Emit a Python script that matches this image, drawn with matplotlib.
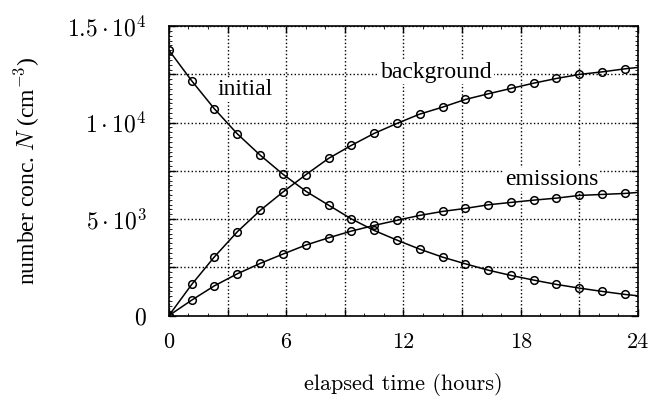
import numpy as np
import matplotlib.pyplot as plt
from matplotlib.ticker import MultipleLocator

plt.rcParams['mathtext.fontset'] = 'cm'
plt.rcParams['font.family'] = ['cmr10', 'DejaVu Serif']
plt.rcParams['axes.formatter.use_mathtext'] = True

# Data, samples every 70 minutes
hours = [0, 1.17, 2.33, 3.5, 4.67, 5.83, 7, 8.17, 9.33, 10.5, 11.67, 12.83,
         14, 15.17, 16.33, 17.5, 18.67, 19.83, 21, 22.17, 23.33]
initial = [13756, 12165, 10714, 9419, 8316, 7331, 6450, 5725, 5015, 4414, 3912,
           3445, 3031, 2684, 2357, 2083, 1839, 1616, 1425, 1254, 1098]
background = [0, 1616, 3046, 4342, 5450, 6399, 7295, 8145, 8818, 9440, 9958,
              10440, 10802, 11201, 11491, 11771, 12046, 12289, 12497, 12631, 12787]
emissions = [0, 803, 1544, 2166, 2704, 3186, 3653, 4031, 4378, 4673, 4938,
             5191, 5399, 5554, 5741, 5865, 5984, 6088, 6228, 6279, 6331]

# curves run on to the right edge
end_hour = 24
end_values = {'initial': 1026, 'background': 12860, 'emissions': 6383}

fig = plt.figure(figsize=(6.52, 3.96), dpi=100)
ax = fig.add_axes([0.259, 0.203, 0.7195, 0.731])

for name, vals in [('initial', initial), ('background', background), ('emissions', emissions)]:
    ax.plot(hours + [end_hour], vals + [end_values[name]], color='black', lw=1.1)
    ax.plot(hours, vals, 'o', mfc='none', mec='black', ms=5.5, mew=1.1)

ax.set_xlim(0, 24)
ax.set_ylim(0, 15000)

ax.xaxis.set_major_locator(MultipleLocator(3))
ax.xaxis.set_minor_locator(MultipleLocator(1))
ax.yaxis.set_major_locator(MultipleLocator(2500))
ax.yaxis.set_minor_locator(MultipleLocator(250))

ax.set_xticklabels(['' if int(t) % 6 else str(int(t)) for t in ax.get_xticks()])
ylabels = {0: '$0$', 5000: r'$5\cdot10^3$', 10000: r'$1\cdot10^4$', 15000: r'$1.5\cdot10^4$'}
ax.set_yticklabels([ylabels.get(int(v), '') for v in ax.get_yticks()])

ax.tick_params(which='both', direction='in', top=True, right=True, labelsize=16)
ax.tick_params(axis='y', which='major', labelsize=17, pad=16)
ax.tick_params(which='major', length=5, width=1)
ax.tick_params(axis='x', which='major', pad=12)
ax.tick_params(which='minor', length=2, width=0.6)
ax.grid(True, which='major', linestyle=':', color='black', lw=1)
for s in ax.spines.values():
    s.set_linewidth(1.2)

ax.set_xlabel('elapsed time (hours)', fontsize=16, labelpad=15)
ax.set_ylabel(r'number conc. $N$ (cm$^{-3}$)', fontsize=17, family='Liberation Serif', labelpad=18)

label_box = dict(facecolor='white', edgecolor='none', pad=1)
ax.text(3.9, 11700, 'initial', fontsize=17, family='Liberation Serif', ha='center', va='center', bbox=label_box)
ax.text(13.7, 12600, 'background', fontsize=17, family='Liberation Serif', ha='center', va='center', bbox=label_box)
ax.text(19.6, 7050, 'emissions', fontsize=17, family='Liberation Serif', ha='center', va='center', bbox=label_box)

fig.savefig('out.png', dpi=100)
